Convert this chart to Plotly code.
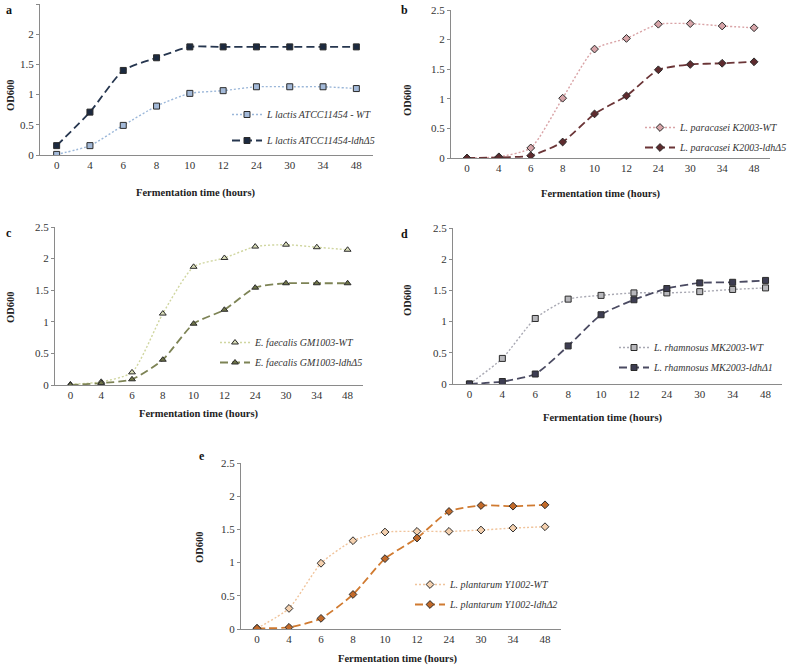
import plotly.graph_objects as go

# --- Data (OD600) ---
hours = ["0", "4", "6", "8", "10", "12", "24", "30", "34", "48"]
y_ticks = [0, 0.5, 1, 1.5, 2, 2.5]

a_wt = [0.01, 0.155, 0.49, 0.81, 1.02, 1.065, 1.13, 1.13, 1.13, 1.10]
a_ldh = [0.155, 0.71, 1.40, 1.61, 1.79, 1.79, 1.79, 1.79, 1.79, 1.79]
b_wt = [0.0, 0.02, 0.17, 1.01, 1.84, 2.02, 2.26, 2.27, 2.23, 2.20]
b_ldh = [0.0, 0.01, 0.04, 0.27, 0.745, 1.05, 1.49, 1.58, 1.60, 1.625]
c_wt = [0.01, 0.05, 0.20, 1.13, 1.87, 2.01, 2.19, 2.22, 2.18, 2.14]
c_ldh = [0.0, 0.03, 0.09, 0.40, 0.97, 1.19, 1.54, 1.61, 1.61, 1.61]
d_wt = [0.0, 0.41, 1.05, 1.36, 1.42, 1.46, 1.46, 1.48, 1.515, 1.54]
d_ldh = [0.0, 0.04, 0.16, 0.61, 1.11, 1.35, 1.53, 1.62, 1.63, 1.66]
e_wt = [0.01, 0.31, 0.99, 1.33, 1.46, 1.47, 1.47, 1.49, 1.52, 1.54]
e_ldh = [0.01, 0.025, 0.16, 0.52, 1.06, 1.37, 1.77, 1.86, 1.85, 1.87]

W, H = 791, 666
FONT = "'Liberation Serif', 'Times New Roman', Times, serif"

# panel: label, data, names, marker symbol, colours, pixel box (x0, x1, y_bottom, y_top), legend pos
panels = [
    dict(tag="a", wt=a_wt, ldh=a_ldh,
         names=("L lactis ATCC11454 - WT", "L lactis ATCC11454-ldhΔ5"),
         symbol="square",
         wt_col=("#a3b9d8", "#9bb7d9"), ldh_col=("#1c2a40", "#26364f"),
         box=(40, 373, 155, 4), leg=(227, 100, 7),
         xt=(195, 193), yt=(11, 95), lab=(4, 10)),
    dict(tag="b", wt=b_wt, ldh=b_ldh,
         names=("L. paracasei K2003-WT", "L. paracasei K2003-ldhΔ5"),
         symbol="diamond",
         wt_col=("#d6a4a8", "#d9a3a6"), ldh_col=("#5e2b2e", "#6b3537"),
         box=(451, 770, 158, 10), leg=(640, 113, 1),
         xt=(600, 194), yt=(408, 100), lab=(399, 10)),
    dict(tag="c", wt=c_wt, ldh=c_ldh,
         names=("E. faecalis GM1003-WT", "E. faecalis GM1003-ldhΔ5"),
         symbol="triangle-up",
         wt_col=("#d8dcb8", "#d0d6a0"), ldh_col=("#6e7449", "#7d8355"),
         box=(55, 363, 385, 227), leg=(215, 328, 1),
         xt=(198, 414), yt=(10, 307), lab=(4, 233)),
    dict(tag="d", wt=d_wt, ldh=d_ldh,
         names=("L. rhamnosus MK2003-WT", "L. rhamnosus MK2003-ldhΔ1"),
         symbol="square",
         wt_col=("#b8b8bc", "#a9a9b3"), ldh_col=("#3d3d52", "#4b4b62"),
         box=(453, 782, 384, 228), leg=(614, 333, 1),
         xt=(602, 418), yt=(407, 300), lab=(399, 234)),
    dict(tag="e", wt=e_wt, ldh=e_ldh,
         names=("L. plantarum Y1002-WT", "L. plantarum Y1002-ldhΔ2"),
         symbol="diamond",
         wt_col=("#f4d0ae", "#f0c49c"), ldh_col=("#c26a2a", "#d07a30"),
         box=(241, 561, 629, 463), leg=(410, 570, 1),
         xt=(398, 659), yt=(199, 547), lab=(197, 456)),
]

fig = go.Figure()
annotations = []
layout = {}

for i, p in enumerate(panels):
    n = "" if i == 0 else str(i + 1)
    x0, x1, yb, yt = p["box"]
    leg_name = "legend" if i == 0 else f"legend{i + 1}"

    for k, (vals, name, col, dash) in enumerate([
        (p["wt"], p["names"][0], p["wt_col"], "2px,2px"),
        (p["ldh"], p["names"][1], p["ldh_col"], "8px,4px"),
    ]):
        fig.add_trace(go.Scatter(
            x=hours, y=vals, name=f"<i>{name}</i>",
            mode="lines+markers",
            line=dict(color=col[1], width=1.8 if k else 1.4, dash=dash,
                      shape="spline", smoothing=0.6),
            marker=dict(symbol=p["symbol"], size=6, color=col[0],
                        line=dict(color="#2b2b2b", width=1)),
            xaxis=f"x{n}", yaxis=f"y{n}",
            legend=leg_name, legendgroup=f"{p['tag']}{k}",
        ))

    layout[f"xaxis{n}"] = dict(
        domain=[x0 / W, x1 / W], anchor=f"y{n}", type="category",
        range=[-0.5, 9.5], showgrid=False, zeroline=False, automargin=False,
        showline=True, linecolor="#8a8a8a", linewidth=1, ticks="",
        tickfont=dict(family=FONT, size=11, color="#333"), fixedrange=True,
    )
    layout[f"yaxis{n}"] = dict(
        domain=[1 - yb / H, 1 - yt / H], anchor=f"x{n}",
        range=[0, 2.5], tickvals=y_ticks, showgrid=False, zeroline=False,
        automargin=False,
        showline=True, linecolor="#8a8a8a", linewidth=1,
        ticks="outside", ticklen=3, tickcolor="#8a8a8a",
        tickfont=dict(family=FONT, size=11, color="#333"), fixedrange=True,
    )
    lx, ly, gap = p["leg"]
    layout[leg_name] = dict(
        x=lx / W, y=1 - ly / H, xanchor="left", yanchor="top",
        bgcolor="rgba(0,0,0,0)", itemwidth=30, tracegroupgap=gap,
        font=dict(family=FONT, size=10, color="#333"),
    )

    annotations += [
        dict(text="<b>Fermentation time (hours)</b>", x=p["xt"][0] / W, y=1 - p["xt"][1] / H,
             xref="paper", yref="paper", showarrow=False,
             xanchor="center", yanchor="middle",
             font=dict(family=FONT, size=10.5, color="#222")),
        dict(text="<b>OD600</b>", x=p["yt"][0] / W, y=1 - p["yt"][1] / H,
             xref="paper", yref="paper", showarrow=False, textangle=-90,
             xanchor="center", yanchor="middle",
             font=dict(family=FONT, size=10.5, color="#222")),
        dict(text=f"<b>{p['tag']}</b>", x=p["lab"][0] / W, y=1 - p["lab"][1] / H,
             xref="paper", yref="paper", showarrow=False,
             xanchor="left", yanchor="middle",
             font=dict(family=FONT, size=12, color="#111")),
    ]

fig.update_layout(
    width=W, height=H,
    margin=dict(l=0, r=0, t=0, b=0, autoexpand=False),
    paper_bgcolor="white", plot_bgcolor="white",
    annotations=annotations,
    **layout,
)

# page body margin would shift the figure by 8px
fig.write_html("out.html", config={"displayModeBar": False},
               post_script="document.body.style.margin='0';")
